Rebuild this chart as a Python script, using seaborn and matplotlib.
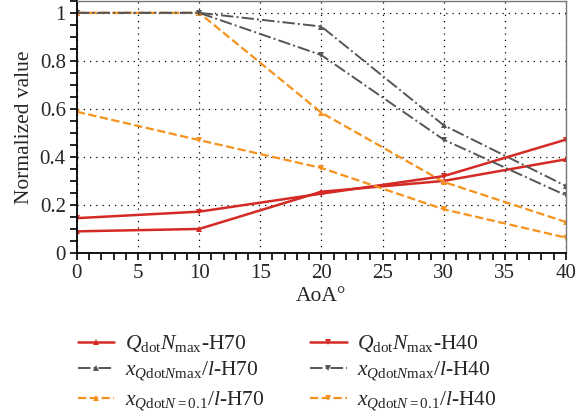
import numpy as np
import pandas as pd
import seaborn as sns
import matplotlib
matplotlib.use("Agg")
import matplotlib.pyplot as plt
from matplotlib.ticker import MultipleLocator

aoa = [0, 10, 20, 30, 40]
q_h70 = [0.09, 0.10, 0.255, 0.30, 0.39]
q_h40 = [0.145, 0.172, 0.247, 0.32, 0.472]
xq_h70 = [1.0, 1.0, 0.943, 0.532, 0.279]
xq_h40 = [1.0, 1.0, 0.824, 0.472, 0.24]
x01_h70 = [1.0, 1.0, 0.584, 0.296, 0.129]
x01_h40 = [0.588, 0.47, 0.354, 0.182, 0.064]

labels = [
    r"$Q_{\rm dot}N_{\rm max}$-H70",
    r"$x_{Q{\rm dot}N{\rm max}}/l$-H70",
    r"$x_{Q{\rm dot}N=0.1}/l$-H70",
    r"$Q_{\rm dot}N_{\rm max}$-H40",
    r"$x_{Q{\rm dot}N{\rm max}}/l$-H40",
    r"$x_{Q{\rm dot}N=0.1}/l$-H40",
]

sns.set_style("ticks")
plt.rcParams['font.family'] = ['Liberation Serif', 'DejaVu Serif']
plt.rcParams['mathtext.fontset'] = 'custom'
plt.rcParams['mathtext.rm'] = 'Liberation Serif'
plt.rcParams['mathtext.it'] = 'Liberation Serif:italic'
plt.rcParams['mathtext.bf'] = 'Liberation Serif:bold'

fig = plt.figure(figsize=(5.87, 4.12), dpi=100)
ax = fig.add_axes([0.131, 0.386, 0.833, 0.612])

red = '#D42A26'
gray = '#555555'
orange = '#F5921E'

series = [
    (q_h70, red, '-', '^', 1.8),
    (xq_h70, gray, '-.', '^', 1.4),
    (x01_h70, orange, '--', '^', 1.6),
    (q_h40, red, '-', 'v', 1.8),
    (xq_h40, gray, '-.', 'v', 1.4),
    (x01_h40, orange, '--', 'v', 1.6),
]

for (vals, c, ls, m, lw), lab in zip(series, labels):
    sns.lineplot(x=aoa, y=vals, ax=ax, color=c, linestyle=ls, marker=m,
                 markersize=5, markeredgewidth=0, linewidth=lw, label=lab)

ax.set_xlim(0, 40)
ax.set_ylim(0, 1.05)
ax.xaxis.set_major_locator(MultipleLocator(5))
ax.xaxis.set_minor_locator(MultipleLocator(1))
ax.yaxis.set_major_locator(MultipleLocator(0.2))
ax.yaxis.set_minor_locator(MultipleLocator(0.05))
ax.set_yticks([0, 0.2, 0.4, 0.6, 0.8, 1.0])
ax.set_yticklabels(['0', '0.2', '0.4', '0.6', '0.8', '1'])
ax.grid(True, which='major', color='black', linestyle=(0, (1, 4)), linewidth=0.9)
ax.tick_params(which='major', direction='out', length=5, width=1.2, labelsize=15, color='black', pad=3)
ax.tick_params(which='minor', direction='out', length=5, width=1.2, color='black')
for s in ['left', 'bottom']:
    ax.spines[s].set_color('black')
    ax.spines[s].set_linewidth(1.3)
for s in ['top', 'right']:
    ax.spines[s].set_color('#777777')
    ax.spines[s].set_linewidth(1.0)
ax.set_xlabel("AoA°", fontsize=15.5, labelpad=3)
ax.set_ylabel("Normalized value", fontsize=15.5, labelpad=4)

ax.get_legend().remove()
handles, labs = ax.get_legend_handles_labels()
fig.legend(handles, labs, loc='upper left', bbox_to_anchor=(0.107, 0.228), ncol=2, frameon=False,
           fontsize=15.5, handlelength=1.7, columnspacing=2.1, labelspacing=0.25,
           handletextpad=0.5, borderpad=0.2)

fig.savefig("out.png", dpi=100)
